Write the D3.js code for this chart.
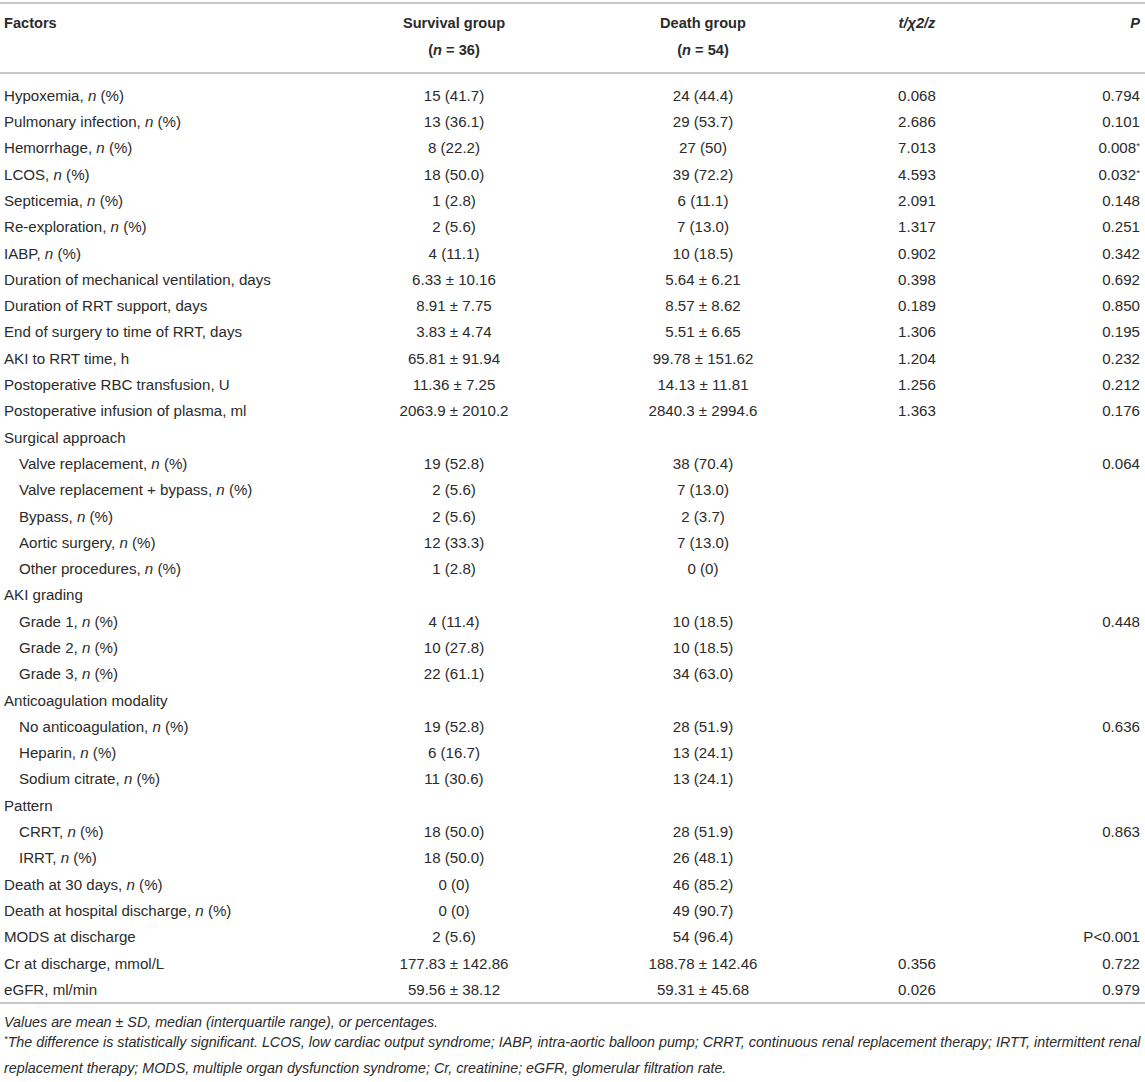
<!DOCTYPE html>
<html>
<head>
<meta charset="utf-8">
<script src="https://cdn.jsdelivr.net/npm/d3@7"></script>
<style>
  html, body { margin: 0; padding: 0; background: #fff; }
  svg text { font-family: "Liberation Sans", Arial, Helvetica, sans-serif; fill: #2b2b2b; }
</style>
</head>
<body>
<svg id="chart"></svg>
<script>
// ---------- data ----------
const factors = [
  "Hypoxemia, n (%)",
  "Pulmonary infection, n (%)",
  "Hemorrhage, n (%)",
  "LCOS, n (%)",
  "Septicemia, n (%)",
  "Re-exploration, n (%)",
  "IABP, n (%)",
  "Duration of mechanical ventilation, days",
  "Duration of RRT support, days",
  "End of surgery to time of RRT, days",
  "AKI to RRT time, h",
  "Postoperative RBC transfusion, U",
  "Postoperative infusion of plasma, ml",
  "Surgical approach",
  "Valve replacement, n (%)",
  "Valve replacement + bypass, n (%)",
  "Bypass, n (%)",
  "Aortic surgery, n (%)",
  "Other procedures, n (%)",
  "AKI grading",
  "Grade 1, n (%)",
  "Grade 2, n (%)",
  "Grade 3, n (%)",
  "Anticoagulation modality",
  "No anticoagulation, n (%)",
  "Heparin, n (%)",
  "Sodium citrate, n (%)",
  "Pattern",
  "CRRT, n (%)",
  "IRRT, n (%)",
  "Death at 30 days, n (%)",
  "Death at hospital discharge, n (%)",
  "MODS at discharge",
  "Cr at discharge, mmol/L",
  "eGFR, ml/min"
];
const subItems = [
  "Valve replacement, n (%)", "Valve replacement + bypass, n (%)", "Bypass, n (%)",
  "Aortic surgery, n (%)", "Other procedures, n (%)",
  "Grade 1, n (%)", "Grade 2, n (%)", "Grade 3, n (%)",
  "No anticoagulation, n (%)", "Heparin, n (%)", "Sodium citrate, n (%)",
  "CRRT, n (%)", "IRRT, n (%)"
];
const survivalGroup = [
  "15 (41.7)", "13 (36.1)", "8 (22.2)", "18 (50.0)", "1 (2.8)", "2 (5.6)", "4 (11.1)",
  "6.33 ± 10.16", "8.91 ± 7.75", "3.83 ± 4.74", "65.81 ± 91.94", "11.36 ± 7.25", "2063.9 ± 2010.2",
  "", "19 (52.8)", "2 (5.6)", "2 (5.6)", "12 (33.3)", "1 (2.8)",
  "", "4 (11.4)", "10 (27.8)", "22 (61.1)",
  "", "19 (52.8)", "6 (16.7)", "11 (30.6)",
  "", "18 (50.0)", "18 (50.0)",
  "0 (0)", "0 (0)", "2 (5.6)", "177.83 ± 142.86", "59.56 ± 38.12"
];
const deathGroup = [
  "24 (44.4)", "29 (53.7)", "27 (50)", "39 (72.2)", "6 (11.1)", "7 (13.0)", "10 (18.5)",
  "5.64 ± 6.21", "8.57 ± 8.62", "5.51 ± 6.65", "99.78 ± 151.62", "14.13 ± 11.81", "2840.3 ± 2994.6",
  "", "38 (70.4)", "7 (13.0)", "2 (3.7)", "7 (13.0)", "0 (0)",
  "", "10 (18.5)", "10 (18.5)", "34 (63.0)",
  "", "28 (51.9)", "13 (24.1)", "13 (24.1)",
  "", "28 (51.9)", "26 (48.1)",
  "46 (85.2)", "49 (90.7)", "54 (96.4)", "188.78 ± 142.46", "59.31 ± 45.68"
];
const statValues = [
  "0.068", "2.686", "7.013", "4.593", "2.091", "1.317", "0.902",
  "0.398", "0.189", "1.306", "1.204", "1.256", "1.363",
  "", "", "", "", "", "",
  "", "", "", "",
  "", "", "", "",
  "", "", "",
  "", "", "", "0.356", "0.026"
];
const pValues = [
  "0.794", "0.101", "0.008*", "0.032*", "0.148", "0.251", "0.342",
  "0.692", "0.850", "0.195", "0.232", "0.212", "0.176",
  "", "0.064", "", "", "", "",
  "", "0.448", "", "",
  "", "0.636", "", "",
  "", "0.863", "",
  "", "", "P<0.001", "0.722", "0.979"
];
const columnHeaders = ["Factors", "Survival group", "Death group", "t/χ2/z", "P"];
const groupSizes = ["36", "54"];
const footnotes = [
  "Values are mean ± SD, median (interquartile range), or percentages.",
  "*The difference is statistically significant. LCOS, low cardiac output syndrome; IABP, intra-aortic balloon pump; CRRT, continuous renal replacement therapy; IRTT, intermittent renal",
  "replacement therapy; MODS, multiple organ dysfunction syndrome; Cr, creatinine; eGFR, glomerular filtration rate."
];

// ---------- layout ----------
const W = 1145, H = 1082;
const svg = d3.select("#chart").attr("width", W).attr("height", H);

const FS = 15.1;       // body text
const FSH = 14.6;      // header text
const FSN = 14.3;      // footnote text
const ruleColor = "#b4b4b4";

// column scale (anchor x of each column)
const colX = d3.scaleOrdinal()
  .domain(columnHeaders)
  .range([4, 454, 703, 917, 1140]);

// row scale
const rowY = d3.scalePoint()
  .domain(d3.range(factors.length))
  .range([95.5, 989.5]);

// rules
const rules = [3, 73, 1003];
svg.selectAll("line.rule").data(rules).join("line")
  .attr("class", "rule")
  .attr("x1", 0).attr("x2", W)
  .attr("y1", d => d).attr("y2", d => d)
  .attr("stroke", ruleColor).attr("stroke-width", 1.6);

// helper: label with italic n
function addRich(sel, str) {
  const m = str.match(/^(.*, )n( \(%\))$/);
  if (m) {
    sel.append("tspan").text(m[1]);
    sel.append("tspan").attr("font-style", "italic").text("n");
    sel.append("tspan").text(m[2]);
  } else {
    sel.text(str);
  }
}

// header
const hdr = svg.append("g").attr("font-weight", "bold").attr("font-size", FSH);
hdr.append("text").attr("x", colX("Factors")).attr("y", 23).attr("dy", "0.35em").text("Factors");
[["Survival group", groupSizes[0]], ["Death group", groupSizes[1]]].forEach(([h, n]) => {
  hdr.append("text").attr("x", colX(h)).attr("y", 23).attr("dy", "0.35em")
    .attr("text-anchor", "middle").text(h);
  const t = hdr.append("text").attr("x", colX(h)).attr("y", 50).attr("dy", "0.35em")
    .attr("text-anchor", "middle");
  t.append("tspan").text("(");
  t.append("tspan").attr("font-style", "italic").text("n");
  t.append("tspan").text(" = " + n + ")");
});
hdr.append("text").attr("x", colX("t/χ2/z")).attr("y", 23).attr("dy", "0.35em")
  .attr("text-anchor", "middle").attr("font-style", "italic").text("t/χ2/z");
hdr.append("text").attr("x", colX("P")).attr("y", 23).attr("dy", "0.35em")
  .attr("text-anchor", "end").attr("font-style", "italic").text("P");

// body rows
const rows = svg.append("g").attr("font-size", FS)
  .selectAll("g.row").data(factors.map((f, i) => i)).join("g")
  .attr("class", "row")
  .attr("transform", i => `translate(0,${rowY(i)})`);

rows.append("text")
  .attr("x", i => colX("Factors") + (subItems.includes(factors[i]) ? 15 : 0))
  .attr("dy", "0.35em")
  .each(function(i) { addRich(d3.select(this), factors[i]); });

rows.append("text").attr("x", colX("Survival group")).attr("dy", "0.35em")
  .attr("text-anchor", "middle").text(i => survivalGroup[i]);
rows.append("text").attr("x", colX("Death group")).attr("dy", "0.35em")
  .attr("text-anchor", "middle").text(i => deathGroup[i]);
rows.append("text").attr("x", colX("t/χ2/z")).attr("dy", "0.35em")
  .attr("text-anchor", "middle").text(i => statValues[i]);
rows.append("text").attr("x", colX("P")).attr("dy", "0.35em")
  .attr("text-anchor", "end")
  .each(function(i) {
    const s = pValues[i];
    const el = d3.select(this);
    if (s.endsWith("*")) {
      el.append("tspan").text(s.slice(0, -1));
      el.append("tspan").attr("font-size", FS * 0.65).attr("dy", "-0.4em").text("*");
    } else {
      el.text(s);
    }
  });

// footnotes
const fy = d3.scalePoint().domain(d3.range(footnotes.length)).range([1022, 1068]);
const fn = svg.append("g").attr("font-size", FSN).attr("font-style", "italic");
fn.selectAll("text").data(footnotes).join("text")
  .attr("x", 4).attr("y", (d, i) => fy(i)).attr("dy", "0.35em")
  .each(function(d) {
    const el = d3.select(this);
    if (d.startsWith("*")) {
      el.append("tspan").attr("font-size", FSN * 0.65).attr("dy", "-0.35em").text("*");
      el.append("tspan").attr("dy", "0.35em").text(d.slice(1));
    } else {
      el.text(d);
    }
  });
</script>
</body>
</html>
